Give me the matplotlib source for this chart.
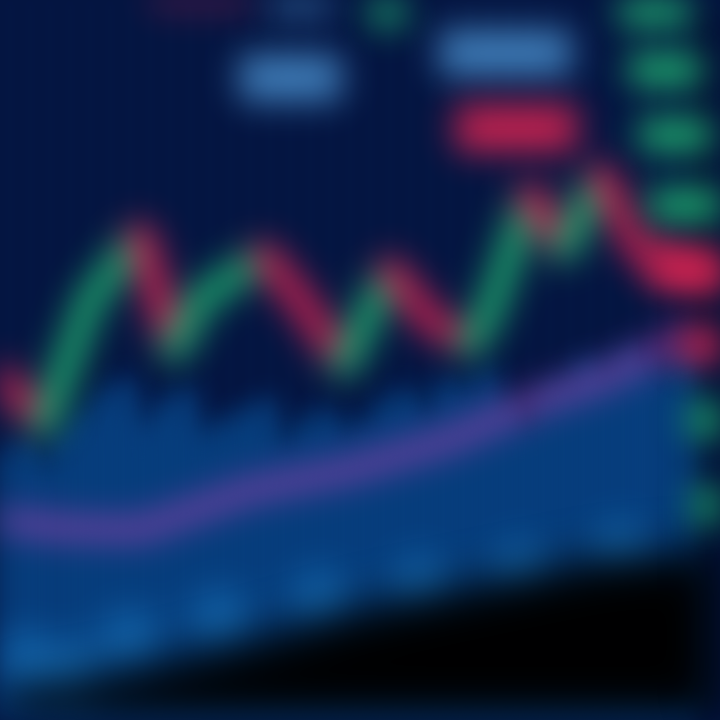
import matplotlib
matplotlib.use("Agg")
import matplotlib.pyplot as plt
import numpy as np
from matplotlib.collections import LineCollection

# price path (zigzag), x in bar units
price_t = [0, 2.2, 4.5, 7, 8.7, 10, 13.2, 15, 17.2, 19.5, 21.5, 23.5, 24.5, 26.5, 28.2, 30, 32, 34.5, 36]
price = [34.5, 29.5, 42, 48.5, 37, 42, 46.5, 42, 35.5, 45, 40, 37.5, 41, 52.5, 47, 54.5, 47, 45, 44.5]

# moving average
ma_t = [0, 3, 7, 12.5, 17.5, 22.5, 27, 30, 34]
ma = [20, 19.2, 19, 23, 25, 28, 32, 34, 38]

# volume bars
volume = [27, 28, 26, 29, 31, 33, 34, 30, 32, 33, 29, 30, 31, 32, 28, 30, 31, 29,
          30, 32, 33, 31, 34, 33, 35, 32, 30, 33, 34, 36, 35, 37, 36, 35, 37]

# lighter blobs near the bottom
low_t = [1, 3.5, 6.5, 11, 16, 21, 26, 31]
low_v = [6, 5, 8, 10, 12, 13.5, 15, 17]

# dark shadow edge at the bottom
shadow_t = [0, 6, 12, 18, 24, 30, 36]
shadow_v = [2.5, 4.5, 7.5, 11, 13.5, 16, 17]

# order book on the right
bid_top = [71, 65, 58.5, 51.5]
bid_top_left = [31, 31.5, 32, 32.5]
ask = [45, 37.5]
ask_left = [32.5, 34]
bid_low = [30, 21.5]
bid_low_left = [34.5, 34.7]

# blurry labels at the top: (x0, y0, w, h)
label_blue = [(22, 64.5, 6.5, 4.5), (12, 62, 5, 4.5), (13.5, 70.8, 3, 1.5)]
label_red = [(22.8, 57, 6, 4.5), (7.5, 71.5, 5, 1)]
label_green = [(18.5, 69.5, 1.7, 2.5)]

BG = "#041541"
GREEN = "#22b873"
RED = "#dc2452"
PURPLE = "#9443b0"
BLUE = "#0a56a0"
LIGHT = "#4a90cf"


def blur(sigma):
    # gaussian blur on premultiplied rgba so edges do not turn black
    def f(im, dpi):
        pad = int(sigma * 3)
        a = np.pad(im, ((pad, pad), (pad, pad), (0, 0))).astype(float)
        a[..., :3] *= a[..., 3:]
        k = np.exp(-0.5 * (np.arange(-pad, pad + 1) / sigma) ** 2)
        k /= k.sum()
        out = np.zeros_like(a)
        for i, w in enumerate(k):
            out += w * np.roll(a, i - pad, axis=0)
        out2 = np.zeros_like(out)
        for i, w in enumerate(k):
            out2 += w * np.roll(out, i - pad, axis=1)
        alpha = out2[..., 3:]
        out2[..., :3] = np.clip(out2[..., :3] / np.maximum(alpha, 1e-6), 0, 1)
        return np.clip(out2, 0, 1), -pad, -pad
    return f


fig = plt.figure(figsize=(7.2, 7.2), dpi=100, facecolor=BG)
ax = fig.add_axes([0, 0, 1, 1])
ax.set_facecolor(BG)
ax.set_xlim(0, 36)
ax.set_ylim(0, 72)
ax.axis("off")
soft = blur(17)

for x in np.arange(0.5, 36, 1.0):
    ln = ax.axvline(x, color="#0e2d66", lw=3, alpha=0.15, zorder=0)
    ln.set_agg_filter(blur(5))

bars = ax.bar(np.arange(len(volume)) + 0.3, volume, width=0.85, color=BLUE, zorder=1)
for b in bars:
    b.set_agg_filter(blur(14))

dots = ax.scatter(low_t, low_v, s=1600, color="#1a78c2", alpha=0.75, marker="o", zorder=2)
dots.set_agg_filter(blur(14))

shadow = ax.fill_between(shadow_t, shadow_v, -5, color="#000000", zorder=3)
shadow.set_agg_filter(blur(16))
edge = ax.fill_betweenx([0, 72], 35.3, 37, color="#01040e", alpha=0.85, zorder=3)
edge.set_agg_filter(blur(14))

maline, = ax.plot(ma_t, ma, color=PURPLE, lw=14, alpha=0.9, zorder=4, solid_capstyle="round")
maline.set_agg_filter(soft)

pts = np.column_stack([price_t, price])
segs = np.stack([pts[:-1], pts[1:]], axis=1)
cols = [GREEN if b > a else RED for a, b in zip(price[:-1], price[1:])]
lc = LineCollection(segs, colors=cols, linewidths=18, capstyle="round", zorder=5)
lc.set_agg_filter(soft)
ax.add_collection(lc)

book = []
book += ax.barh(bid_top, 3.5, left=bid_top_left, height=3.0, color=GREEN, zorder=6).patches
book += ax.barh(ask, [4, 2.5], left=ask_left, height=3.4, color=RED, zorder=6).patches
book += ax.barh(bid_low, 2, left=bid_low_left, height=3.4, color=GREEN, zorder=6).patches
for (x0, y0, w, h) in label_blue:
    book.append(ax.add_patch(plt.Rectangle((x0, y0), w, h, color=LIGHT, alpha=0.85, zorder=6)))
for (x0, y0, w, h) in label_red:
    book.append(ax.add_patch(plt.Rectangle((x0, y0), w, h, color=RED, alpha=0.9, zorder=6)))
for (x0, y0, w, h) in label_green:
    book.append(ax.add_patch(plt.Rectangle((x0, y0), w, h, color=GREEN, alpha=0.85, zorder=6)))
for p in book:
    p.set_agg_filter(soft)

fig.savefig("out.png", dpi=100, facecolor=BG)
